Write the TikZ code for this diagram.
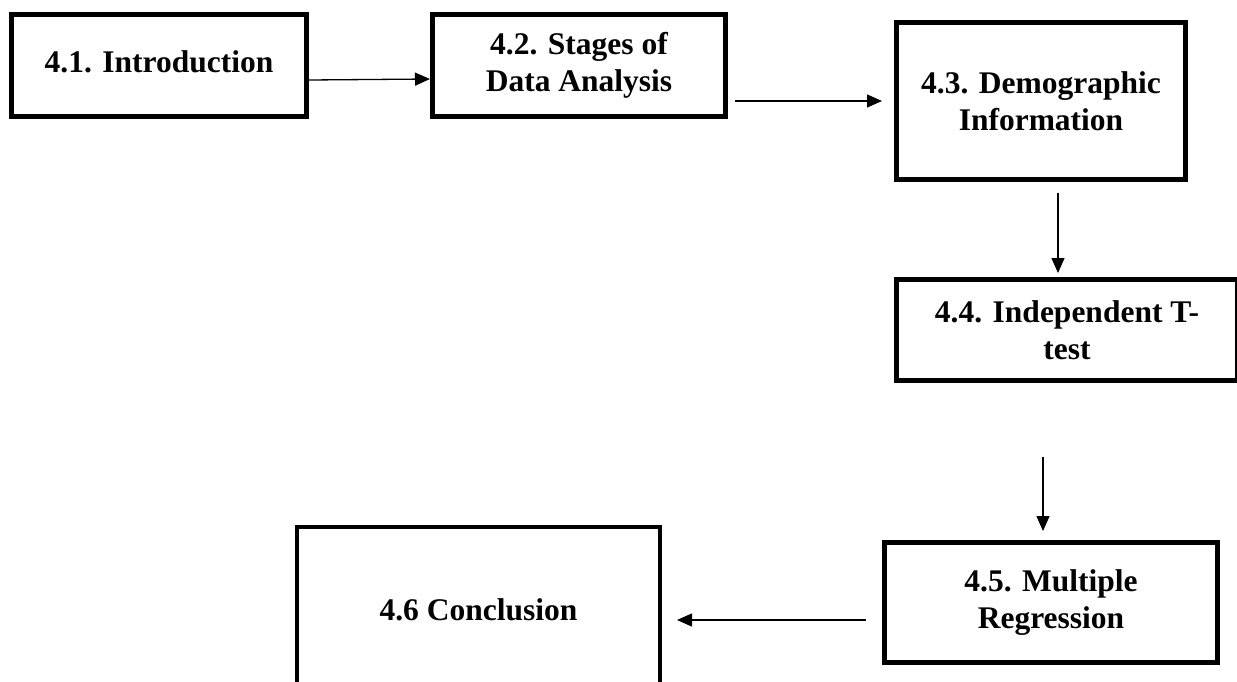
\documentclass[tikz,border=0pt]{standalone}
\usepackage{fontspec}
\setmainfont{Liberation Serif}
\usetikzlibrary{arrows.meta}
% two centred lines, raised or lowered as a block
\newcommand{\twolines}[3]{\raisebox{#1}{\begin{tabular}{@{}c@{}}#2\\#3\end{tabular}}}
\begin{document}
\begin{tikzpicture}[x=1pt,y=-1pt,
  stagebox/.style={draw=black, line width=5pt, fill=white, align=center,
    font=\fontsize{31.5}{37}\selectfont\bfseries, inner sep=0pt},
  arr/.style={draw=black, line width=1.3pt, -{Triangle[length=15pt,width=13pt]}}]
\useasboundingbox (0,0) rectangle (1237,681);
\clip (0,0) rectangle (1237,681);

% chapter stages
\node[stagebox, minimum width=295pt, minimum height=102pt] (b1) at (159,65.5) {\raisebox{7pt}{4.1. Introduction}};
\node[stagebox, minimum width=293pt, minimum height=102pt] (b2) at (579,65.5) {\twolines{-4pt}{4.2. Stages of}{Data Analysis}};
\node[stagebox, minimum width=289pt, minimum height=157pt] (b3) at (1041,101) {4.3. Demographic\\Information};
\node[stagebox, minimum width=341pt, minimum height=101pt] (b4) at (1067,330) {4.4. Independent T-\\test};
\node[stagebox, minimum width=333pt, minimum height=120pt] (b5) at (1051,602.5) {\twolines{-6pt}{4.5. Multiple}{Regression}};
\node[stagebox, line width=4pt, minimum width=363pt, minimum height=166pt] (b6) at (478.5,610) {4.6 Conclusion};

% flow between stages
\draw[arr] ([yshift=-14.5pt]b1.east) -- ([yshift=-13.5pt]b2.west);
\draw[arr] ([xshift=7pt]b2.east |- b3.west) -- ([xshift=-12pt]b3.west);
\draw[arr] ([xshift=17pt,yshift=-11pt]b3.south) -- ([xshift=-9pt,yshift=4pt]b4.north);
\draw[arr] ([xshift=-24pt,yshift=-74pt]b4.south) -- ([xshift=-8pt,yshift=9pt]b5.north);
\draw[arr] ([xshift=-16pt,yshift=-17.5pt]b5.west) -- ([xshift=15pt,yshift=-10pt]b6.east);
\end{tikzpicture}
\end{document}
